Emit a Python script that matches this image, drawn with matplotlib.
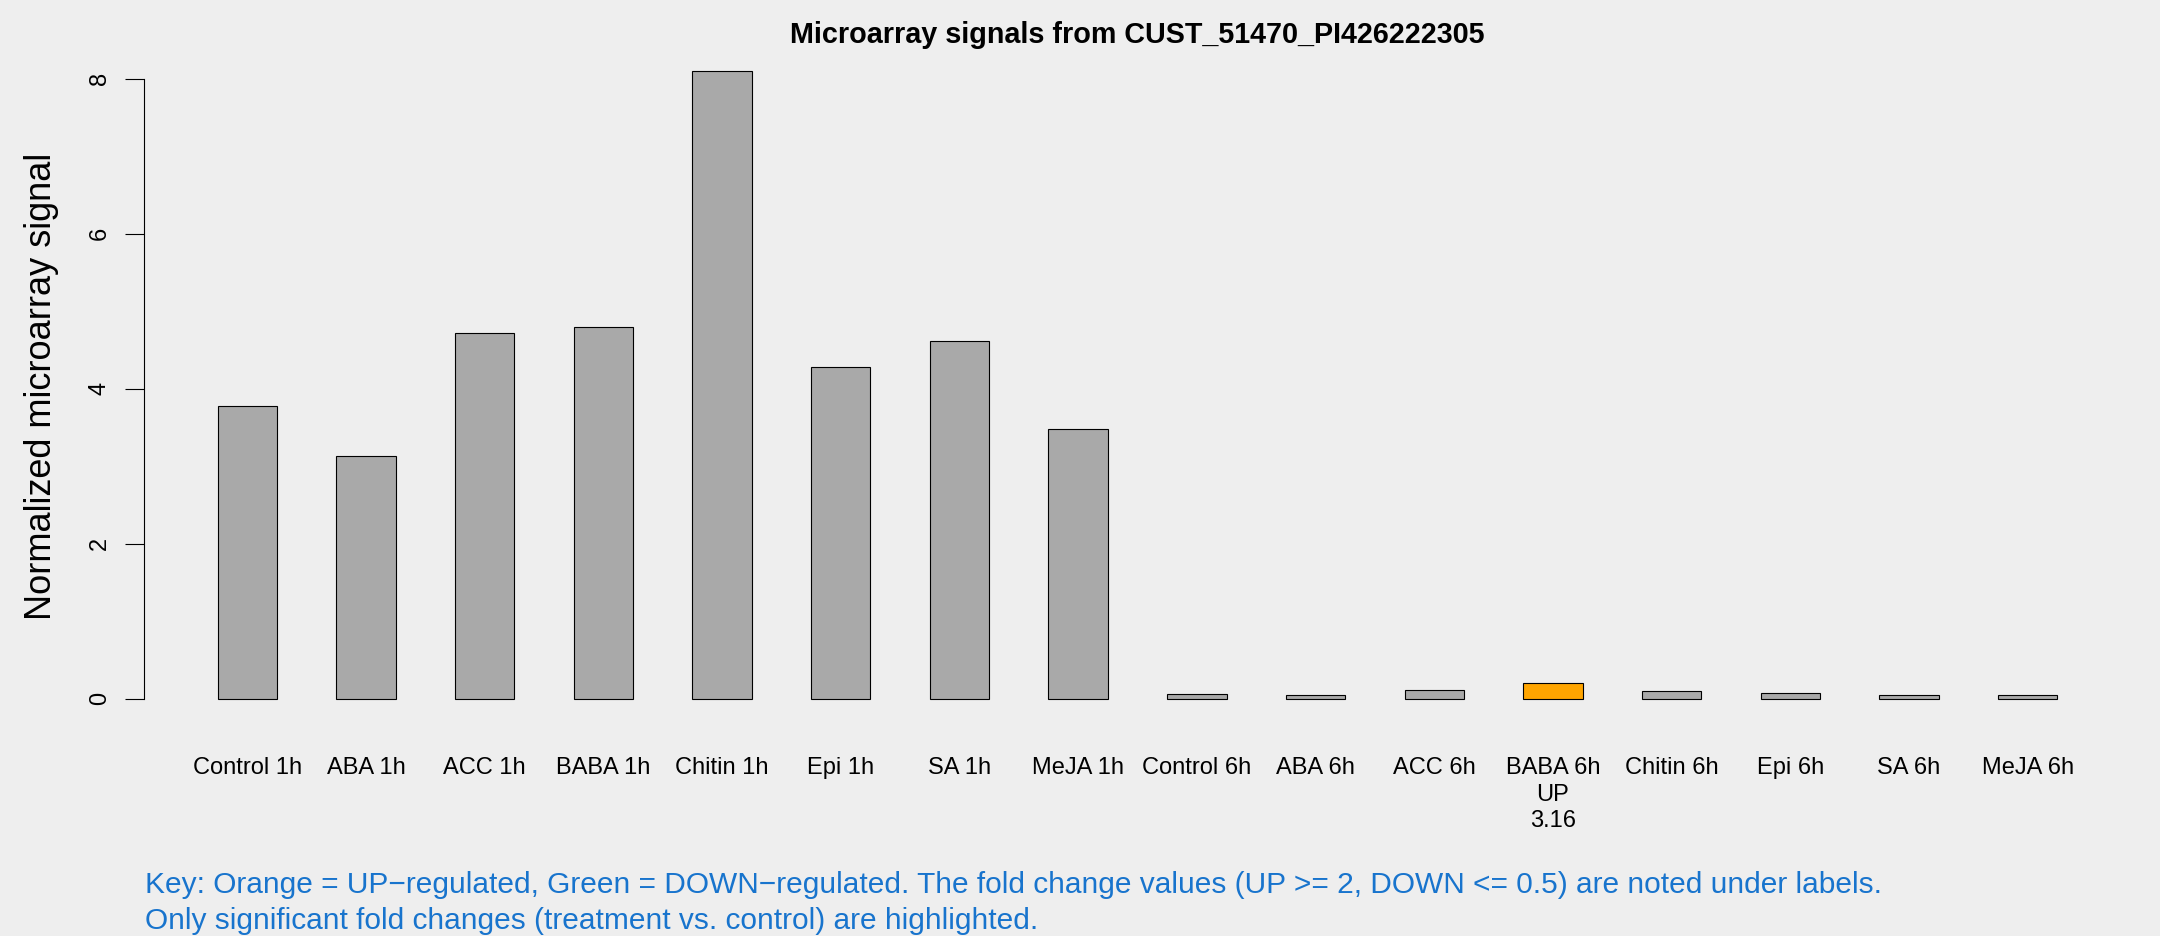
import matplotlib
matplotlib.use("Agg")
import matplotlib.pyplot as plt
import numpy as np

plt.rcParams['font.family'] = ['Liberation Sans', 'DejaVu Sans']

categories = ["Control 1h", "ABA 1h", "ACC 1h", "BABA 1h", "Chitin 1h", "Epi 1h", "SA 1h", "MeJA 1h",
              "Control 6h", "ABA 6h", "ACC 6h", "BABA 6h", "Chitin 6h", "Epi 6h", "SA 6h", "MeJA 6h"]
values = [3.78, 3.14, 4.72, 4.80, 8.10, 4.28, 4.62, 3.48,
          0.065, 0.047, 0.12, 0.206, 0.103, 0.073, 0.047, 0.047]
regulation = ["", "", "", "", "", "", "", "",
              "", "", "", "UP", "", "", "", ""]
fold_labels = ["", "", "", "", "", "", "", "",
               "", "", "", "3.16", "", "", "", ""]
yticks = [0, 2, 4, 6, 8]
title = "Microarray signals from CUST_51470_PI426222305"
ylabel = "Normalized microarray signal"
key_lines = ["Key: Orange = UP\u2212regulated, Green = DOWN\u2212regulated. The fold change values (UP >= 2, DOWN <= 0.5) are noted under labels.",
             "Only significant fold changes (treatment vs. control) are highlighted."]

bg = "#EEEEEE"
colors = []
for r in regulation:
    if r == "UP":
        colors.append("#FFA500")
    elif r == "DOWN":
        colors.append("#00A000")
    else:
        colors.append("#A9A9A9")

labels = []
for c, r, f in zip(categories, regulation, fold_labels):
    if r:
        labels.append(f"{c}\n{r}\n{f}")
    else:
        labels.append(c)

W, H = 2160, 936
fig = plt.figure(figsize=(W / 100, H / 100), dpi=100, facecolor=bg)
ax = fig.add_axes([144 / W, 1 - 724 / H, (2131 - 144) / W, (724 - 46) / H])
ax.set_facecolor(bg)

n = len(values)
x = np.arange(n) * 2 + 1.5
ax.bar(x, values, width=1.0, color=colors, edgecolor="black", linewidth=0.8)

span = x[-1] + 0.5 - (x[0] - 0.5)
ax.set_xlim(x[0] - 0.5 - 0.04 * span, x[-1] + 0.5 + 0.04 * span)
ymax = max(values)
ax.set_ylim(-0.04 * ymax, ymax * 1.04)

for s in ["top", "right", "bottom"]:
    ax.spines[s].set_visible(False)
ax.spines["left"].set_bounds(yticks[0], yticks[-1])
ax.spines["left"].set_linewidth(0.8)

ax.set_yticks(yticks)
ax.set_yticklabels([str(t) for t in yticks], rotation=90, va="center", fontsize=17)
ax.tick_params(axis="y", length=14, width=0.8, pad=10)

ax.set_xticks(x)
ax.set_xticklabels(labels, fontsize=17, linespacing=1.25)
ax.tick_params(axis="x", length=0, pad=24)

fig.text((144 + 2131) / 2 / W, 1 - 35 / H, title, ha="center", va="center",
         fontsize=20.7, fontweight="bold")
fig.text(42 / W, 1 - 386 / H, ylabel, rotation=90, ha="center", va="center", fontsize=26)

fig.text(145 / W, 1 - 885 / H, key_lines[0], ha="left", va="center", fontsize=21.5, color="#1874CD")
fig.text(145 / W, 1 - 921 / H, key_lines[1], ha="left", va="center", fontsize=21.5, color="#1874CD")

fig.savefig("out.png", dpi=100, facecolor=bg)
